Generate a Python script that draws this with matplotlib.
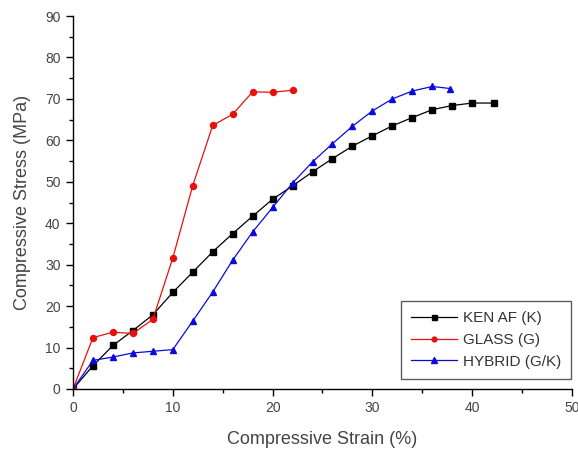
import matplotlib
matplotlib.use("Agg")
import matplotlib.pyplot as plt
from matplotlib.ticker import MultipleLocator

plt.rcParams['font.family'] = ['Liberation Sans', 'DejaVu Sans']

kenaf_x = [0, 2, 4, 6, 8, 10, 12, 14, 16, 18, 20, 22, 24, 26, 28, 30, 32, 34, 36, 38, 40, 42.2]
kenaf_y = [0, 5.6, 10.5, 14.1, 17.9, 23.3, 28.2, 33.1, 37.5, 41.7, 45.8, 49.0, 52.4, 55.6, 58.6, 61.1, 63.5, 65.5, 67.4, 68.4, 69.0, 69.0]

glass_x = [0, 2, 4, 6, 8, 10, 12, 14, 16, 18, 20, 22]
glass_y = [0, 12.4, 13.7, 13.4, 16.8, 31.6, 49.1, 63.6, 66.3, 71.7, 71.6, 72.1]

hybrid_x = [0, 2, 4, 6, 8, 10, 12, 14, 16, 18, 20, 22, 24, 26, 28, 30, 32, 34, 36, 37.8]
hybrid_y = [0, 6.9, 7.7, 8.7, 9.1, 9.5, 16.4, 23.4, 31.1, 37.9, 43.8, 49.7, 54.8, 59.2, 63.4, 67.1, 70.0, 71.9, 73.0, 72.5]

labels = ["KEN AF (K)", "GLASS (G)", "HYBRID (G/K)"]

fig = plt.figure(figsize=(5.78, 4.5), dpi=100)
ax = fig.add_axes([0.1263, 0.1356, 0.8633, 0.8288])

ax.plot(kenaf_x, kenaf_y, color='black', marker='s', markersize=4.5, linewidth=0.9, label=labels[0])
ax.plot(glass_x, glass_y, color='#e8100c', marker='o', markersize=4.3, linewidth=0.9, label=labels[1])
ax.plot(hybrid_x, hybrid_y, color='#0a0adc', marker='^', markersize=5, linewidth=0.9, label=labels[2])

ax.set_xlim(0, 50)
ax.set_ylim(0, 90)
ax.xaxis.set_major_locator(MultipleLocator(10))
ax.xaxis.set_minor_locator(MultipleLocator(5))
ax.yaxis.set_major_locator(MultipleLocator(10))
ax.yaxis.set_minor_locator(MultipleLocator(5))
ax.spines['top'].set_visible(False)
ax.spines['right'].set_visible(False)
for s in ['left', 'bottom']:
    ax.spines[s].set_linewidth(1.0)
ax.tick_params(which='major', direction='out', length=5, width=1, labelsize=10, colors='black', labelcolor='#444444', pad=4)
ax.tick_params(which='minor', direction='out', length=3, width=1)

ax.set_xlabel("Compressive Strain (%)", fontsize=13, color='#444444', labelpad=11)
ax.set_ylabel("Compressive Stress (MPa)", fontsize=13, color='#444444', labelpad=10)

leg = ax.legend(loc='lower right', bbox_to_anchor=(0.998, 0.028), frameon=True, fancybox=False,
                edgecolor='#333333', fontsize=11, handlelength=3.0, borderpad=0.65, labelspacing=0.5,
                handletextpad=0.4, markerscale=0.8, borderaxespad=0)
leg.get_frame().set_linewidth(1.0)
for t in leg.get_texts():
    t.set_color('#333333')

fig.savefig("out.png", dpi=100)
